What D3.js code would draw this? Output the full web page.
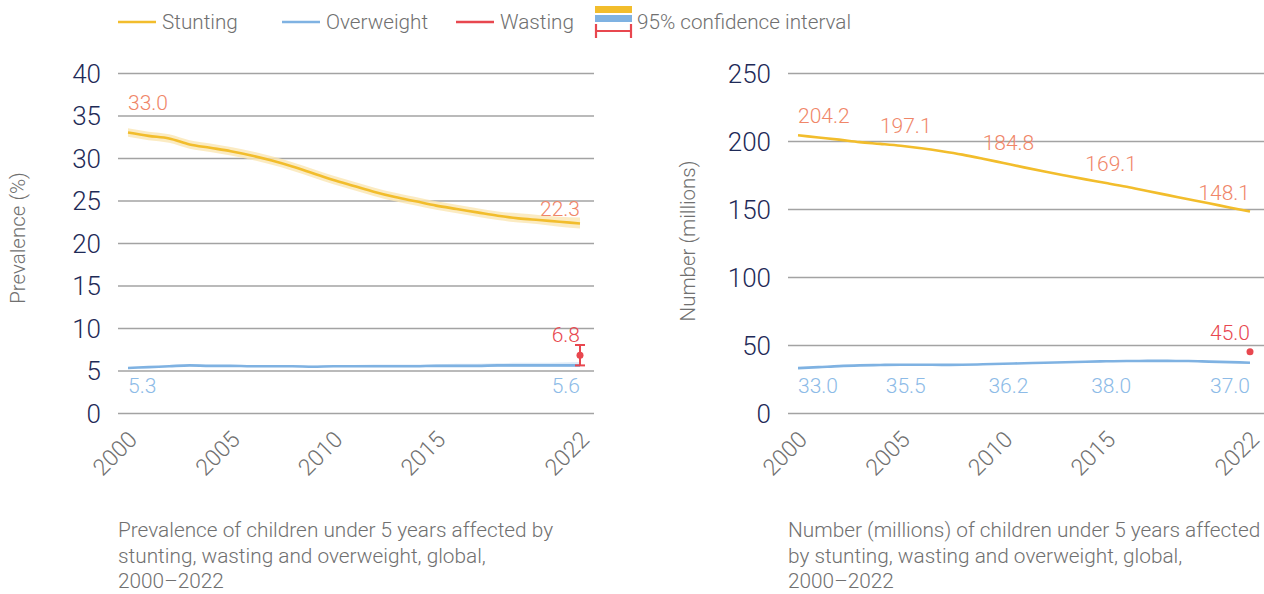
<!DOCTYPE html>
<html><head><meta charset="utf-8">
<script src="https://cdn.jsdelivr.net/npm/d3@7"></script>
<style>
body{margin:0;background:#fff;}
svg{display:block;}
svg text{font-family:Roboto,"Open Sans",sans-serif;font-weight:300;}
</style></head>
<body><svg id="c" width="1264" height="594"></svg>
<script>
// ---------- data ----------
const years = d3.range(2000, 2023);
// Prevalence (%)
const stuntPrev   = [33.0,32.6,32.3,31.6,31.2,30.8,30.3,29.7,29.0,28.2,27.4,26.7,26.0,25.4,24.9,24.4,24.0,23.6,23.2,22.9,22.7,22.5,22.3];
const stuntPrevLo = [32.5,32.1,31.8,31.1,30.7,30.3,29.8,29.2,28.5,27.7,26.9,26.2,25.5,24.9,24.4,23.9,23.5,23.1,22.7,22.4,22.2,21.9,21.7];
const stuntPrevHi = [33.5,33.1,32.8,32.1,31.7,31.3,30.8,30.2,29.5,28.7,27.9,27.2,26.5,25.9,25.4,24.9,24.5,24.1,23.7,23.5,23.3,23.1,23.0];
const owPrev      = [5.3,5.4,5.5,5.6,5.55,5.55,5.5,5.5,5.5,5.45,5.5,5.5,5.5,5.5,5.5,5.55,5.55,5.55,5.6,5.6,5.6,5.6,5.6];
const owPrevLo    = [5.2,5.3,5.4,5.5,5.45,5.45,5.4,5.4,5.4,5.35,5.4,5.4,5.4,5.4,5.4,5.4,5.4,5.4,5.4,5.4,5.4,5.4,5.4];
const owPrevHi    = [5.4,5.5,5.6,5.7,5.65,5.65,5.6,5.6,5.65,5.6,5.65,5.65,5.7,5.7,5.7,5.75,5.8,5.8,5.85,5.9,5.9,5.95,6.0];
const wastPrev    = {year: 2022, value: 6.8, lo: 5.6, hi: 8.0};
// Number (millions)
const stuntNum = [204.2,202.6,201.0,199.2,197.9,196.5,194.7,192.5,190.0,187.0,183.8,180.6,177.5,174.6,171.8,169.1,166.3,163.2,160.2,157.2,154.2,151.1,148.1];
const owNum    = [33.0,33.7,34.5,35.0,35.3,35.5,35.5,35.4,35.5,35.8,36.2,36.6,37.0,37.3,37.7,38.0,38.2,38.3,38.3,38.2,37.8,37.4,37.0];
const wastNum  = {year: 2022, value: 45.0};
// Labelled points
const prevLabelYears = [2000, 2022];
const numLabelYears  = [2000, 2005, 2010, 2015, 2022];
const numStuntLabels = [204.2, 197.1, 184.8, 169.1, 148.1];
const numOwLabels    = [33.0, 35.5, 36.2, 38.0, 37.0];
// Axes
const xTicks     = [2000, 2005, 2010, 2015, 2022];
const yTicksPrev = [0,5,10,15,20,25,30,35,40];
const yTicksNum  = [0,50,100,150,200,250];
const legendItems = ["Stunting", "Overweight", "Wasting"];
const captions = [
  ["Prevalence of children under 5 years affected by","stunting, wasting and overweight, global,","2000\u20132022"],
  ["Number (millions) of children under 5 years affected","by stunting, wasting and overweight, global,","2000\u20132022"]
];

// ---------- style ----------
const C = {stunt:"#f2bd2c", stuntBand:"#fae6b3", ow:"#7fb2e2", owBand:"#d6e6f6",
           wast:"#e8474f", label:"#f08668", owLabel:"#8dbbe7", tick:"#1e2a57",
           grey:"#707070", grid:"#a3a3a3"};
const FONT = "Roboto, 'Open Sans', sans-serif";
const svg = d3.select("#c");

function panel(opt){
  const g = svg.append("g");
  const x = d3.scaleLinear().domain([2000,2022]).range(opt.xr);
  const y = d3.scaleLinear().domain(opt.ydom).range([413,73]);
  const ya = g.append("g").attr("transform",`translate(${opt.gx0},0)`)
    .call(d3.axisLeft(y).tickValues(opt.yticks).tickSize(-(opt.gx1-opt.gx0)).tickPadding(17))
    .attr("font-family",FONT);
  ya.select(".domain").remove();
  ya.selectAll(".tick line").attr("stroke",C.grid).attr("stroke-width",1.6);
  ya.selectAll(".tick text").attr("fill",C.tick).attr("font-size",26).attr("dy","0.36em");
  const xa = g.append("g").attr("transform","translate(0,413)")
    .call(d3.axisBottom(x).tickValues(xTicks).tickSize(0).tickFormat(d3.format("d")))
    .attr("font-family",FONT);
  xa.select(".domain").remove();
  xa.selectAll(".tick text").attr("fill",C.grey).attr("font-size",23)
    .attr("y",0).attr("dy",0).attr("text-anchor","end")
    .attr("transform","translate(10,28) rotate(-45)");
  g.append("text").attr("transform",`translate(${opt.titleX},${opt.titleY}) rotate(-90)`)
    .attr("text-anchor","middle").attr("fill",C.grey).attr("font-size",20.5)
    .text(opt.title);
  g.append("g").selectAll("text").data(opt.caption).join("text")
    .attr("x",opt.gx0).attr("y",(d,i)=>537+i*25.5).attr("fill",C.grey)
    .attr("font-size",20.8).text(d=>d);
  return {g,x,y};
}

const fmt = d3.format(".1f");
// ---------- left panel ----------
{
  const {g,x,y} = panel({xr:[128,580], ydom:[0,40], yticks:yTicksPrev, gx0:118, gx1:594,
    title:"Prevalence (%)", titleX:25, titleY:238, caption:captions[0]});
  const area = (lo,hi)=>d3.area().x((d,i)=>x(years[i])).y0((d,i)=>y(lo[i])).y1((d,i)=>y(hi[i])).curve(d3.curveMonotoneX);
  const line = d3.line().x((d,i)=>x(years[i])).y(d=>y(d)).curve(d3.curveMonotoneX);
  g.append("path").attr("d",area(stuntPrevLo,stuntPrevHi)(years)).attr("fill",C.stuntBand).attr("opacity",0.8);
  g.append("path").attr("d",line(stuntPrev)).attr("fill","none").attr("stroke",C.stunt).attr("stroke-width",2.6);
  g.append("path").attr("d",area(owPrevLo,owPrevHi)(years)).attr("fill",C.owBand).attr("opacity",0.8);
  g.append("path").attr("d",line(owPrev)).attr("fill","none").attr("stroke",C.ow).attr("stroke-width",2.6);
  const wx = x(wastPrev.year);
  g.append("line").attr("x1",wx).attr("x2",wx).attr("y1",y(wastPrev.lo)).attr("y2",y(wastPrev.hi)).attr("stroke",C.wast).attr("stroke-width",2);
  [wastPrev.lo,wastPrev.hi].forEach(v=>g.append("line").attr("x1",wx-5).attr("x2",wx+5).attr("y1",y(v)).attr("y2",y(v)).attr("stroke",C.wast).attr("stroke-width",2));
  g.append("circle").attr("cx",wx).attr("cy",y(wastPrev.value)).attr("r",3.5).attr("fill",C.wast);
  prevLabelYears.forEach((yr,k)=>{
    const v = stuntPrev[years.indexOf(yr)];
    g.append("text").attr("x",x(yr)).attr("y",k===0? y(v)-23 : y(v)-7)
      .attr("text-anchor",k===0?"start":"end").attr("fill",C.label).attr("font-size",21).text(fmt(v));
    const o = owPrev[years.indexOf(yr)];
    g.append("text").attr("x",x(yr)).attr("y",y(0)-20)
      .attr("text-anchor",k===0?"start":"end").attr("fill",C.owLabel).attr("font-size",21).text(fmt(o));
  });
  g.append("text").attr("x",wx).attr("y",y(wastPrev.value)-13).attr("text-anchor","end")
    .attr("fill",C.wast).attr("font-size",21).text(fmt(wastPrev.value));
}

// ---------- right panel ----------
{
  const {g,x,y} = panel({xr:[798,1250], ydom:[0,250], yticks:yTicksNum, gx0:788, gx1:1264,
    title:"Number (millions)", titleX:695, titleY:241, caption:captions[1]});
  const line = d3.line().x((d,i)=>x(years[i])).y(d=>y(d)).curve(d3.curveMonotoneX);
  g.append("path").attr("d",line(stuntNum)).attr("fill","none").attr("stroke",C.stunt).attr("stroke-width",2.6);
  g.append("path").attr("d",line(owNum)).attr("fill","none").attr("stroke",C.ow).attr("stroke-width",2.6);
  g.append("circle").attr("cx",x(wastNum.year)).attr("cy",y(wastNum.value)).attr("r",3.5).attr("fill",C.wast);
  const last = numLabelYears.length-1;
  const anchor = k=> k===0?"start":(k===last?"end":"middle");
  const dxm = k=> (k===0||k===last)?0:5;
  numLabelYears.forEach((yr,k)=>{
    const v = numStuntLabels[k];
    g.append("text").attr("x",x(yr)+dxm(k)).attr("y",y(v)-12).attr("text-anchor",anchor(k))
      .attr("fill",C.label).attr("font-size",21).text(fmt(v));
    g.append("text").attr("x",x(yr)+dxm(k)).attr("y",y(0)-20).attr("text-anchor",anchor(k))
      .attr("fill",C.owLabel).attr("font-size",21).text(fmt(numOwLabels[k]));
  });
  g.append("text").attr("x",x(wastNum.year)).attr("y",y(wastNum.value)-12).attr("text-anchor","end")
    .attr("fill",C.wast).attr("font-size",21).text(fmt(wastNum.value));
}

// ---------- legend ----------
{
  const lg = svg.append("g");
  const cols = [C.stunt, C.ow, C.wast];
  const lx = [118, 282, 456];
  legendItems.forEach((t,i)=>{
    lg.append("line").attr("x1",lx[i]).attr("x2",lx[i]+38).attr("y1",22).attr("y2",22).attr("stroke",cols[i]).attr("stroke-width",2.4);
    lg.append("text").attr("x",lx[i]+44).attr("y",29).attr("fill",C.grey).attr("font-size",20.7).text(t);
  });
  const cx = 595, cw = 37;
  lg.append("rect").attr("x",cx).attr("y",6).attr("width",cw).attr("height",7).attr("fill",C.stunt);
  lg.append("rect").attr("x",cx).attr("y",15).attr("width",cw).attr("height",7).attr("fill",C.ow);
  lg.append("line").attr("x1",cx+1).attr("x2",cx+cw-1).attr("y1",31).attr("y2",31).attr("stroke",C.wast).attr("stroke-width",2.2);
  [cx+1,cx+cw-1].forEach(v=>lg.append("line").attr("x1",v).attr("x2",v).attr("y1",24).attr("y2",38).attr("stroke",C.wast).attr("stroke-width",2.2));
  lg.append("text").attr("x",637).attr("y",29).attr("fill",C.grey).attr("font-size",20.7).text("95% confidence interval");
}
</script></body></html>
